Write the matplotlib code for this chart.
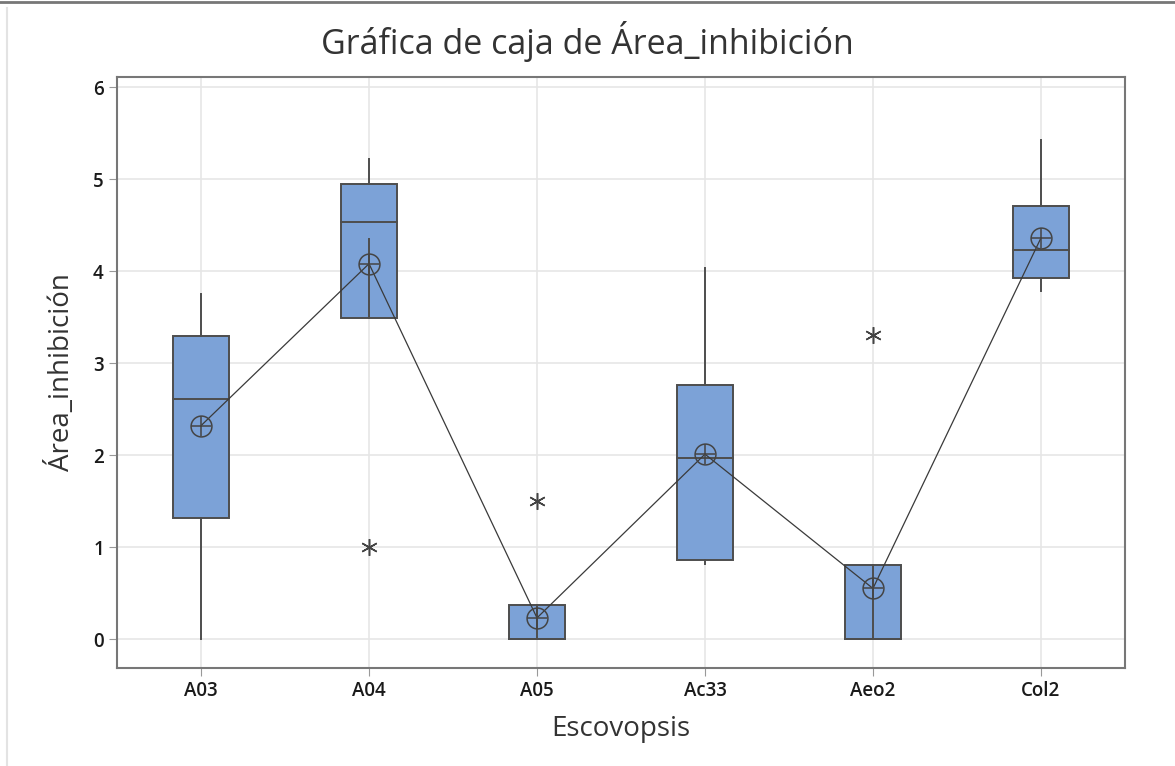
import matplotlib
matplotlib.use("Agg")
import matplotlib.pyplot as plt
from matplotlib.patches import Rectangle
from matplotlib.lines import Line2D

categories = ["A03", "A04", "A05", "Ac33", "Aeo2", "Col2"]
q1 = [1.32, 3.49, 0.00, 0.86, 0.00, 3.93]
median = [2.61, 4.53, 0.00, 1.97, 0.00, 4.23]
q3 = [3.29, 4.95, 0.37, 2.76, 0.80, 4.71]
whisker_low = [0.00, 4.35, 0.00, 0.82, 0.00, 3.78]
whisker_high = [3.75, 5.22, 0.00, 4.03, 0.00, 5.43]
means = [2.32, 4.08, 0.23, 2.01, 0.55, 4.36]
outlier_cat = ["A04", "A05", "Aeo2"]
outlier_val = [1.00, 1.50, 3.30]
yticks = [0, 1, 2, 3, 4, 5, 6]

plt.rcParams['font.family'] = ['Open Sans', 'DejaVu Sans']

fig = plt.figure(figsize=(11.75, 7.66), dpi=100)
ax = fig.add_axes([0.0996, 0.1279, 0.8578, 0.7716])

box_face = "#7CA2D7"
edge = "#4D4D4D"
bw = 0.333

x = list(range(1, len(categories) + 1))
for xi, a, m, b, lo, hi in zip(x, q1, median, q3, whisker_low, whisker_high):
    ax.add_patch(Rectangle((xi - bw / 2, a), bw, b - a, facecolor=box_face,
                           edgecolor=edge, linewidth=1.4, zorder=3))
    ax.plot([xi - bw / 2, xi + bw / 2], [m, m], color=edge, lw=1.4, zorder=4)
    ax.plot([xi, xi], [b, hi], color=edge, lw=1.4, zorder=4)
    ax.plot([xi, xi], [a, lo], color=edge, lw=1.4, zorder=4)

# mean connect line
ax.plot(x, means, color="#3A3A3A", lw=0.9, zorder=5)
ax.plot(x, means, linestyle="none", marker="o", markersize=15,
        markerfacecolor="none", markeredgecolor="#444444", markeredgewidth=1.1, zorder=6)
ax.plot(x, means, linestyle="none", marker="+", markersize=15,
        markeredgecolor="#444444", markeredgewidth=1.1, zorder=6)

# outliers
ox = [categories.index(c) + 1 for c in outlier_cat]
ax.plot(ox, outlier_val, linestyle="none", marker=(6, 2, 0), markersize=12,
        markeredgecolor="#444444", markeredgewidth=1.1, zorder=6)

ax.set_xlim(0.5, 6.5)
ax.set_ylim(-0.315, 6.11)
ax.set_xticks(x)
ax.set_xticklabels(categories)
ax.set_yticks(yticks)
ax.set_yticklabels([str(t) for t in yticks])
ax.grid(True, color="#E6E6E6", linewidth=1.2, zorder=0)
ax.set_axisbelow(True)
for s in ax.spines.values():
    s.set_color("#777777")
    s.set_linewidth(1.5)
ax.tick_params(axis="both", direction="out", length=6, color="#999999",
               labelsize=13.5, labelcolor="#1A1A1A")
for lab in ax.get_xticklabels() + ax.get_yticklabels():
    lab.set_fontweight("semibold")

ax.set_xlabel("Escovopsis", fontsize=20, color="#333333", labelpad=10)
ax.set_ylabel("Área_inhibición", fontsize=20, color="#333333", labelpad=12)
fig.text(0.5, 0.946, "Gráfica de caja de Área_inhibición", ha="center", va="center",
         fontsize=24.5, color="#333333", fontweight="medium")

# outer frame lines
fig.add_artist(Line2D([0, 1], [0.997, 0.997], color="#777777", lw=2, transform=fig.transFigure))
fig.add_artist(Line2D([0.006, 0.006], [0, 0.99], color="#E3E3E3", lw=1.5, transform=fig.transFigure))

fig.savefig("out.png", dpi=100)
